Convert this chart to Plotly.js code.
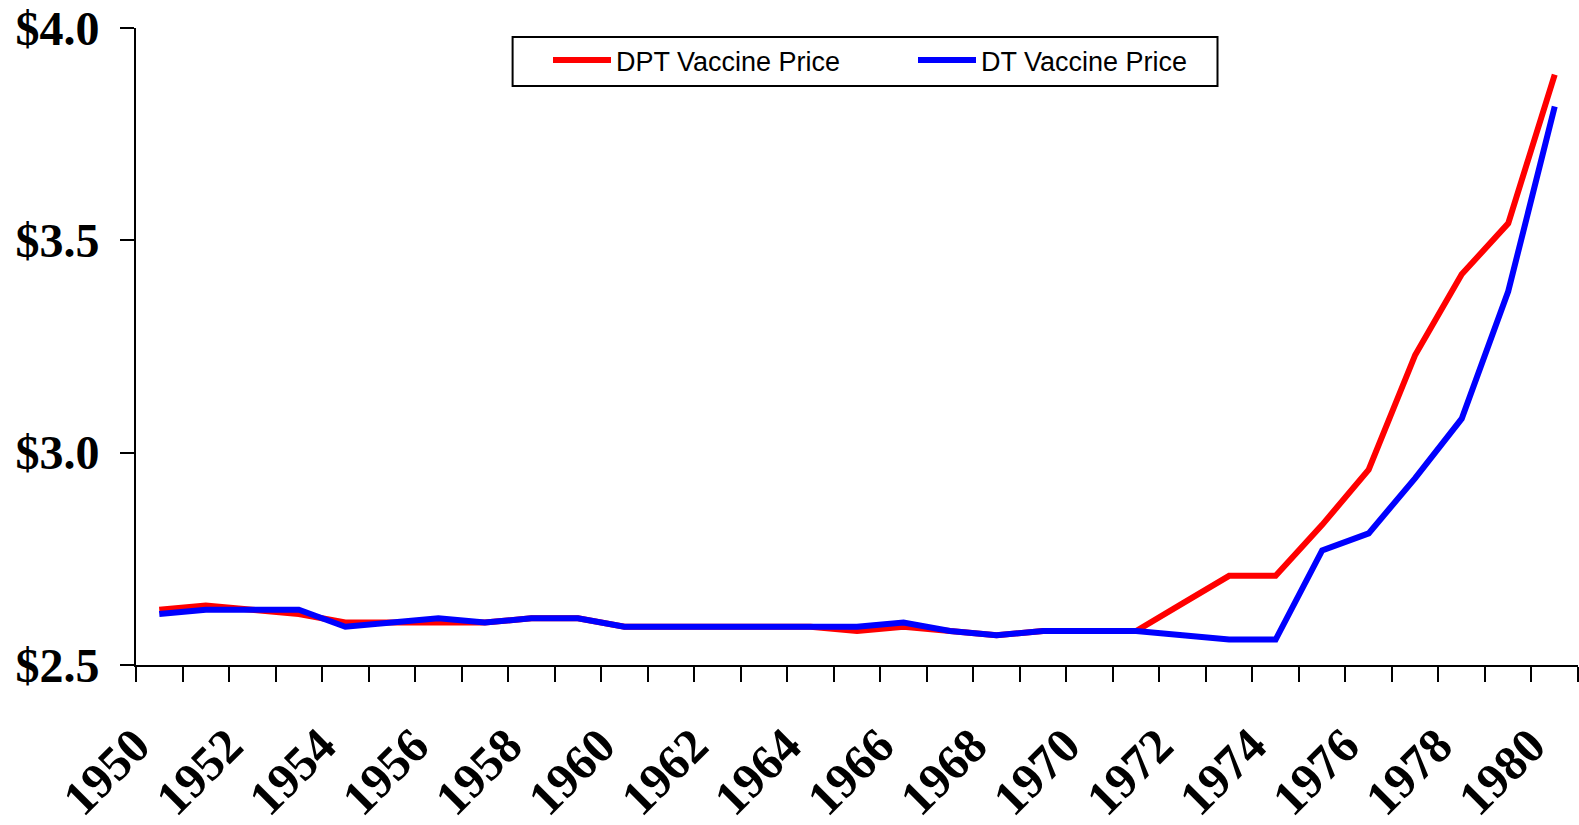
<!DOCTYPE html>
<html>
<head>
<meta charset="utf-8">
<script src="https://cdn.plot.ly/plotly-3.0.1.min.js"></script>
<style>html,body{margin:0;padding:0;background:#fff;}#chart{width:1579px;height:825px;}</style>
</head>
<body>
<div id="chart"></div>
<script>
const years = [1950,1951,1952,1953,1954,1955,1956,1957,1958,1959,1960,1961,1962,1963,1964,1965,1966,1967,1968,1969,1970,1971,1972,1973,1974,1975,1976,1977,1978,1979,1980];
const dptPrice = [2.63,2.64,2.63,2.62,2.60,2.60,2.60,2.60,2.61,2.61,2.59,2.59,2.59,2.59,2.59,2.58,2.59,2.58,2.57,2.58,2.58,2.58,2.645,2.71,2.71,2.83,2.96,3.23,3.42,3.54,3.89];
const dtPrice  = [2.62,2.63,2.63,2.63,2.59,2.60,2.61,2.60,2.61,2.61,2.59,2.59,2.59,2.59,2.59,2.59,2.60,2.58,2.57,2.58,2.58,2.58,2.57,2.56,2.56,2.77,2.81,2.94,3.08,3.38,3.815];
const xLabelYears = [1950,1952,1954,1956,1958,1960,1962,1964,1966,1968,1970,1972,1974,1976,1978,1980];
const yTicks = [2.5,3.0,3.5,4.0];
const yTickText = ["$2.5","$3.0","$3.5","$4.0"];
const seriesNames = ["DPT Vaccine Price","DT Vaccine Price"];

const serifY = {family:"Liberation Serif, Times New Roman, serif", size:48, color:"#000", weight:"bold"};
const serifX = {family:"Liberation Serif, Times New Roman, serif", size:49, color:"#000", weight:"bold"};

const traces = [
  {x:years, y:dptPrice, type:"scatter", mode:"lines", name:seriesNames[0], line:{color:"#FF0000", width:6}},
  {x:years, y:dtPrice, type:"scatter", mode:"lines", name:seriesNames[1], line:{color:"#0000FF", width:6}}
];

const layout = {
  width:1579, height:825,
  margin:{l:136, r:1, t:28, b:160},
  paper_bgcolor:"#fff", plot_bgcolor:"#fff",
  showlegend:true,
  legend:{
    orientation:"h", xref:"paper", yref:"paper",
    x:(548-136)/1442, y:(665-36)/637, xanchor:"left", yanchor:"top",
    borderwidth:0, bgcolor:"rgba(0,0,0,0)",
    font:{family:"Liberation Sans, Arial, sans-serif", size:27, color:"#000"},
    itemwidth:58, entrywidth:292, entrywidthmode:"pixels", traceorder:"normal"
  },
  shapes:[{
    type:"rect", xref:"paper", yref:"paper",
    x0:(512.6-136)/1442, x1:(1217.5-136)/1442, y0:(665-86)/637, y1:(665-37)/637,
    line:{color:"#000", width:2}, fillcolor:"rgba(0,0,0,0)", layer:"above"
  }],
  xaxis:{
    type:"linear", range:[1949.5,1980.5], tickvals:xLabelYears, ticktext:xLabelYears.map(String),
    ticks:"", tickangle:-45, tickfont:serifX, ticklabelstandoff:30, ticklabelshift:-24,
    showgrid:false, zeroline:false, showline:true, linecolor:"#000", linewidth:2,
    minor:{tick0:1949.5, dtick:1, ticks:"outside", ticklen:15, tickwidth:2, tickcolor:"#000", showgrid:false},
    fixedrange:true
  },
  yaxis:{
    range:[2.5,4.0], tickvals:yTicks, ticktext:yTickText,
    ticks:"outside", ticklen:14, tickwidth:2, tickcolor:"#000", tickfont:serifY, ticklabelstandoff:11,
    showgrid:false, zeroline:false, showline:true, linecolor:"#000", linewidth:2,
    fixedrange:true
  }
};

Plotly.newPlot("chart", traces, layout, {displayModeBar:false, staticPlot:true});
</script>
</body>
</html>
